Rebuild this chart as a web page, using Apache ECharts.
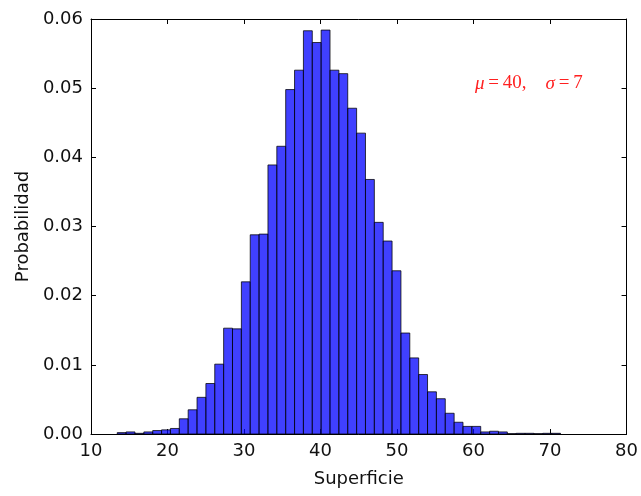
<!DOCTYPE html>
<html>
<head>
<meta charset="utf-8">
<script src="https://cdn.jsdelivr.net/npm/echarts@6/dist/echarts.min.js"></script>
<style>html,body{margin:0;padding:0;background:#fff;}#c{width:641px;height:496px;}</style>
</head>
<body>
<div id="c"></div>
<script>
// Histogram: 50 bins between histMin and histMax
var histMin = 13.43;
var histMax = 71.37;
var densities = [
  0.0002, 0.0003, 0.0001, 0.0003, 0.0005, 0.0006, 0.0008, 0.0022, 0.0035, 0.0053,
  0.0073, 0.0101, 0.0153, 0.0152, 0.0220, 0.0288, 0.0289, 0.0389, 0.0416, 0.0498,
  0.0526, 0.0583, 0.0566, 0.0584, 0.0526, 0.0521, 0.0471, 0.0435, 0.0368, 0.0306,
  0.0279, 0.0236, 0.0146, 0.0110, 0.0086, 0.0061, 0.0051, 0.0030, 0.0017, 0.0011,
  0.0011, 0.0003, 0.0004, 0.0003, 0.00005, 0.0001, 0.0001, 0.00005, 0.0001, 0.0001
];
var xTicks = [10, 20, 30, 40, 50, 60, 70, 80];
var yTicks = [0.00, 0.01, 0.02, 0.03, 0.04, 0.05, 0.06];
var xLabel = 'Superficie';
var yLabel = 'Probabilidad';

var binWidth = (histMax - histMin) / densities.length;
var data = densities.map(function (d, i) {
  return [histMin + i * binWidth, histMin + (i + 1) * binWidth, d];
});

var FONT = 'DejaVu Sans';
var chart = echarts.init(document.getElementById('c'), null, {renderer: 'canvas'});
var tickCommon = {show: true, inside: true, length: 5, lineStyle: {color: '#000', width: 1}};
chart.setOption({
  animation: false,
  backgroundColor: '#fff',
  grid: {left: 91, right: 13, top: 19, bottom: 62, containLabel: false},
  xAxis: [{
    type: 'value', min: xTicks[0], max: xTicks[xTicks.length - 1], interval: 10,
    position: 'bottom',
    axisLine: {show: true, onZero: false, lineStyle: {color: '#000', width: 1}},
    axisTick: tickCommon,
    splitLine: {show: false},
    axisLabel: {fontFamily: FONT, fontSize: 18, color: '#111', margin: 8},
    name: xLabel, nameLocation: 'middle', nameGap: 36,
    nameTextStyle: {fontFamily: FONT, fontSize: 18, color: '#111'}
  }, {
    type: 'value', min: xTicks[0], max: xTicks[xTicks.length - 1], interval: 10,
    position: 'top',
    axisLine: {show: true, onZero: false, lineStyle: {color: '#000', width: 1}},
    axisTick: tickCommon,
    splitLine: {show: false},
    axisLabel: {show: false}
  }],
  yAxis: [{
    type: 'value', min: yTicks[0], max: yTicks[yTicks.length - 1], interval: 0.01,
    position: 'left',
    axisLine: {show: true, onZero: false, lineStyle: {color: '#000', width: 1}},
    axisTick: tickCommon,
    splitLine: {show: false},
    axisLabel: {fontFamily: FONT, fontSize: 18, color: '#111', margin: 8,
      formatter: function (v) { return v.toFixed(2); }},
    name: yLabel, nameLocation: 'middle', nameGap: 57,
    nameTextStyle: {fontFamily: FONT, fontSize: 18, color: '#111'}
  }, {
    type: 'value', min: yTicks[0], max: yTicks[yTicks.length - 1], interval: 0.01,
    position: 'right',
    axisLine: {show: true, onZero: false, lineStyle: {color: '#000', width: 1}},
    axisTick: tickCommon,
    splitLine: {show: false},
    axisLabel: {show: false}
  }],
  graphic: [{
    type: 'text', left: 475, top: 74,
    style: {
      rich: {
        it: {fontFamily: 'Liberation Serif', fontStyle: 'italic', fontSize: 19, fill: '#ff2020'},
        n: {fontFamily: 'Liberation Serif', fontSize: 19, fill: '#ff2020'}
      },
      text: '{it|μ}{n|\u2009=\u200940,\u2002\u2002}{it|σ}{n|\u2009=\u20097}'
    }
  }],
  series: [{
    type: 'custom',
    xAxisIndex: 0, yAxisIndex: 0,
    data: data,
    encode: {x: [0, 1], y: 2},
    renderItem: function (params, api) {
      var p0 = api.coord([api.value(0), api.value(2)]);
      var p1 = api.coord([api.value(1), 0]);
      return {
        type: 'rect',
        shape: {x: p0[0], y: p0[1], width: p1[0] - p0[0], height: p1[1] - p0[1]},
        style: {fill: 'rgba(0,0,255,0.75)', stroke: 'rgba(0,0,0,0.75)', lineWidth: 1}
      };
    }
  }]
});
</script>
</body>
</html>
